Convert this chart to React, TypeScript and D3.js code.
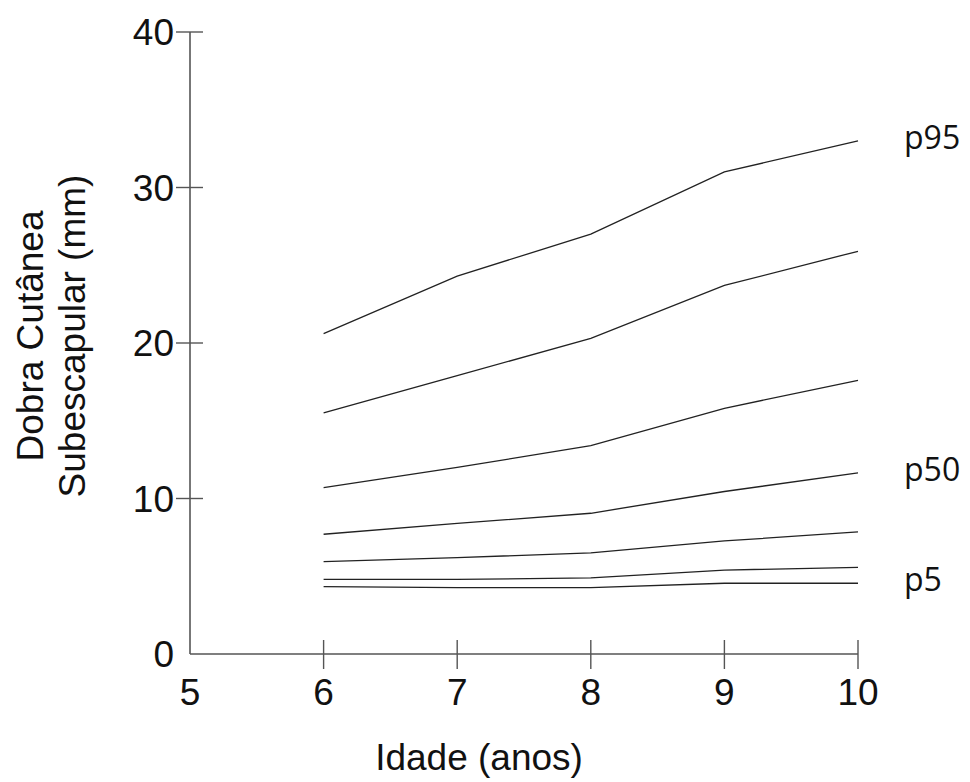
import React, { useEffect, useRef } from "react";
import * as d3 from "d3";

// idade (anos)
const ages = [6, 7, 8, 9, 10];

// percentis da dobra cutânea subescapular (mm)
const p95 = [20.6, 24.3, 27.0, 31.0, 33.0];
const p90 = [15.5, 17.9, 20.3, 23.7, 25.9];
const p75 = [10.7, 12.0, 13.4, 15.8, 17.6];
const p50 = [7.7, 8.4, 9.05, 10.45, 11.65];
const p25 = [5.94, 6.2, 6.5, 7.27, 7.85];
const p10 = [4.8, 4.8, 4.89, 5.4, 5.57];
const p5 = [4.33, 4.27, 4.27, 4.55, 4.55];

const seriesList = [p95, p90, p75, p50, p25, p10, p5];
const labeled = [
  { name: "p95", values: p95 },
  { name: "p50", values: p50 },
  { name: "p5", values: p5 },
];

const xTicks = [5, 6, 7, 8, 9, 10];
const yTicks = [0, 10, 20, 30, 40];

function App() {
  const svgRef = useRef<SVGSVGElement>(null);

  useEffect(() => {
    const svg = d3.select(svgRef.current);
    svg.selectAll("*").remove();

    const x = d3.scaleLinear().domain([5, 10]).range([190, 858]);
    const y = d3.scaleLinear().domain([0, 40]).range([654, 32]);

    const axisColor = "#555";
    const font = "Liberation Sans, Arial, sans-serif";
    const g = svg.append("g");

    // eixos
    g.append("line")
      .attr("x1", x(5)).attr("x2", x(10))
      .attr("y1", y(0)).attr("y2", y(0))
      .attr("stroke", axisColor).attr("stroke-width", 1.6);
    g.append("line")
      .attr("x1", x(5)).attr("x2", x(5))
      .attr("y1", y(0)).attr("y2", y(40))
      .attr("stroke", axisColor).attr("stroke-width", 1.6);

    // ticks x (cruzam o eixo)
    g.selectAll("line.xt")
      .data(xTicks.filter(d => d !== 5))
      .join("line")
      .attr("class", "xt")
      .attr("x1", d => x(d)).attr("x2", d => x(d))
      .attr("y1", y(0) - 14).attr("y2", y(0) + 15)
      .attr("stroke", axisColor).attr("stroke-width", 1.4);

    g.selectAll("text.xl")
      .data(xTicks)
      .join("text")
      .attr("class", "xl")
      .attr("x", d => x(d))
      .attr("y", 705)
      .attr("text-anchor", "middle")
      .attr("font-family", font)
      .attr("font-size", 37)
      .attr("fill", "#111")
      .text(d => d);

    // ticks y
    g.selectAll("line.yt")
      .data(yTicks.filter(d => d !== 0))
      .join("line")
      .attr("class", "yt")
      .attr("x1", x(5) - 14).attr("x2", x(5) + 13)
      .attr("y1", d => y(d)).attr("y2", d => y(d))
      .attr("stroke", axisColor).attr("stroke-width", 1.4);

    g.selectAll("text.yl")
      .data(yTicks)
      .join("text")
      .attr("class", "yl")
      .attr("x", 174)
      .attr("y", d => y(d) + 13)
      .attr("text-anchor", "end")
      .attr("font-family", font)
      .attr("font-size", 37)
      .attr("fill", "#111")
      .text(d => d);

    // títulos
    g.append("text")
      .attr("x", 479).attr("y", 770)
      .attr("text-anchor", "middle")
      .attr("font-family", font)
      .attr("font-size", 37)
      .attr("fill", "#111")
      .text("Idade (anos)");

    const yt = g.append("text")
      .attr("transform", "translate(43, 336) rotate(-90)")
      .attr("text-anchor", "middle")
      .attr("font-family", font)
      .attr("font-size", 37)
      .attr("fill", "#111");
    yt.append("tspan").attr("x", 0).attr("dy", 0).text("Dobra Cutânea");
    yt.append("tspan").attr("x", 0).attr("dy", 42).text("Subescapular (mm)");

    // linhas de percentis
    const line = d3.line<number>()
      .x((_, i) => x(ages[i]))
      .y(d => y(d));

    g.selectAll("path.pct")
      .data(seriesList)
      .join("path")
      .attr("class", "pct")
      .attr("d", d => line(d))
      .attr("fill", "none")
      .attr("stroke", "#222")
      .attr("stroke-width", 1.3);

    g.selectAll("text.pl")
      .data(labeled)
      .join("text")
      .attr("class", "pl")
      .attr("x", 904)
      .attr("y", d => y(d.values[d.values.length - 1]) + 8)
      .attr("font-family", "Open Sans, sans-serif")
      .attr("font-size", 32)
      .attr("fill", "#111")
      .text(d => d.name);
  }, []);

  return (
    <svg
      ref={svgRef}
      width={970}
      height={782}
      style={{ position: "absolute", left: 0, top: 0, background: "#fff" }}
    />
  );
}

export default App;
